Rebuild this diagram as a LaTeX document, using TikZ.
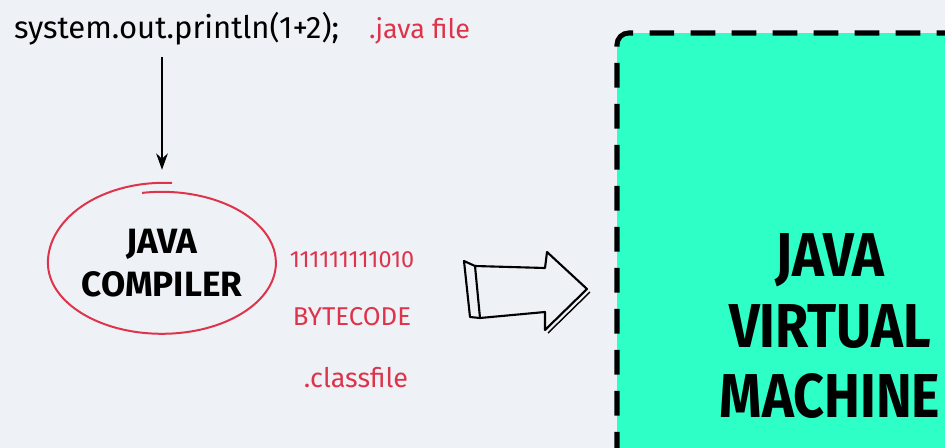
\documentclass[tikz,border=0pt]{standalone}
\usepackage{fontspec}
\setmainfont{Fira Sans}
\usetikzlibrary{arrows.meta,shapes.geometric}
\definecolor{bgcol}{RGB}{238,241,245}
\definecolor{penred}{RGB}{221,52,75}
\definecolor{jvmgreen}{RGB}{46,255,198}

\begin{document}
\begin{tikzpicture}[x=0.03cm,y=-0.03cm,
  red text/.style={text=penred,font=\fontsize{23}{26}\selectfont,anchor=base},
  caps/.style={font=\bfseries\fontsize{30}{37}\selectfont,align=center}]
\clip (0,0) rectangle (945,448);
\fill[bgcol] (0,0) rectangle (945,448);
% source line
\node[anchor=base west,font=\fontsize{26.5}{30}\selectfont] (code) at (10,38) {system.out.println(1+2);};
\node[red text,anchor=base west] (ext) at (365,38) {.java file};
% compiler
\node[ellipse,minimum width=6.84cm,minimum height=4.32cm,inner sep=0pt,caps] (jc) at (162,263) {JAVA\\COMPILER};
\draw[penred,line width=1.7pt] (172,183) arc[start angle=274,end angle=180,x radius=116,y radius=80]
  arc[start angle=180,end angle=-100,x radius=114,y radius=71];
\draw[-{Stealth[length=14pt,width=10pt]},line width=1.2pt] ([yshift=-0.24cm]code.south -| jc.north) -- ([yshift=0.63cm]jc.north);
% bytecode
\node[red text,font=\fontsize{20}{24}\selectfont] (bits) at (352,267) {111111111010};
\node[red text,font=\fontsize{22}{26}\selectfont] (bc) at (352,325) {BYTECODE};
\node[red text] (cls) at (356,387) {.classfile};
% hollow arrow
\draw[line width=1.8pt,line join=round] (475,266) -- (545,268) -- (547,252) -- (587,289) -- (545,330) -- (545,312) -- (480,318) -- cycle;
\draw[line width=1.8pt,line join=round] (475,266) -- (464,261) -- (470,317) -- (480,318);
\draw[line width=1.2pt] (590,292) -- (548,333);
% virtual machine
\fill[jvmgreen,rounded corners=10pt] (980,480) -- (617,480) -- (617,33) -- (980,33);
\draw[line width=4.3pt,dash pattern=on 21pt off 14pt,dash phase=15pt,rounded corners=10pt] (617,480) -- (617,33) -- (980,33);
\node[font=\bfseries\fontsize{46}{52}\selectfont] (jvm) at (830,333) {\scalebox{1}[1.15]{\begin{tabular}{@{}c@{}}JAVA\\VIRTUAL\\MACHINE\end{tabular}}};
\end{tikzpicture}
\end{document}
